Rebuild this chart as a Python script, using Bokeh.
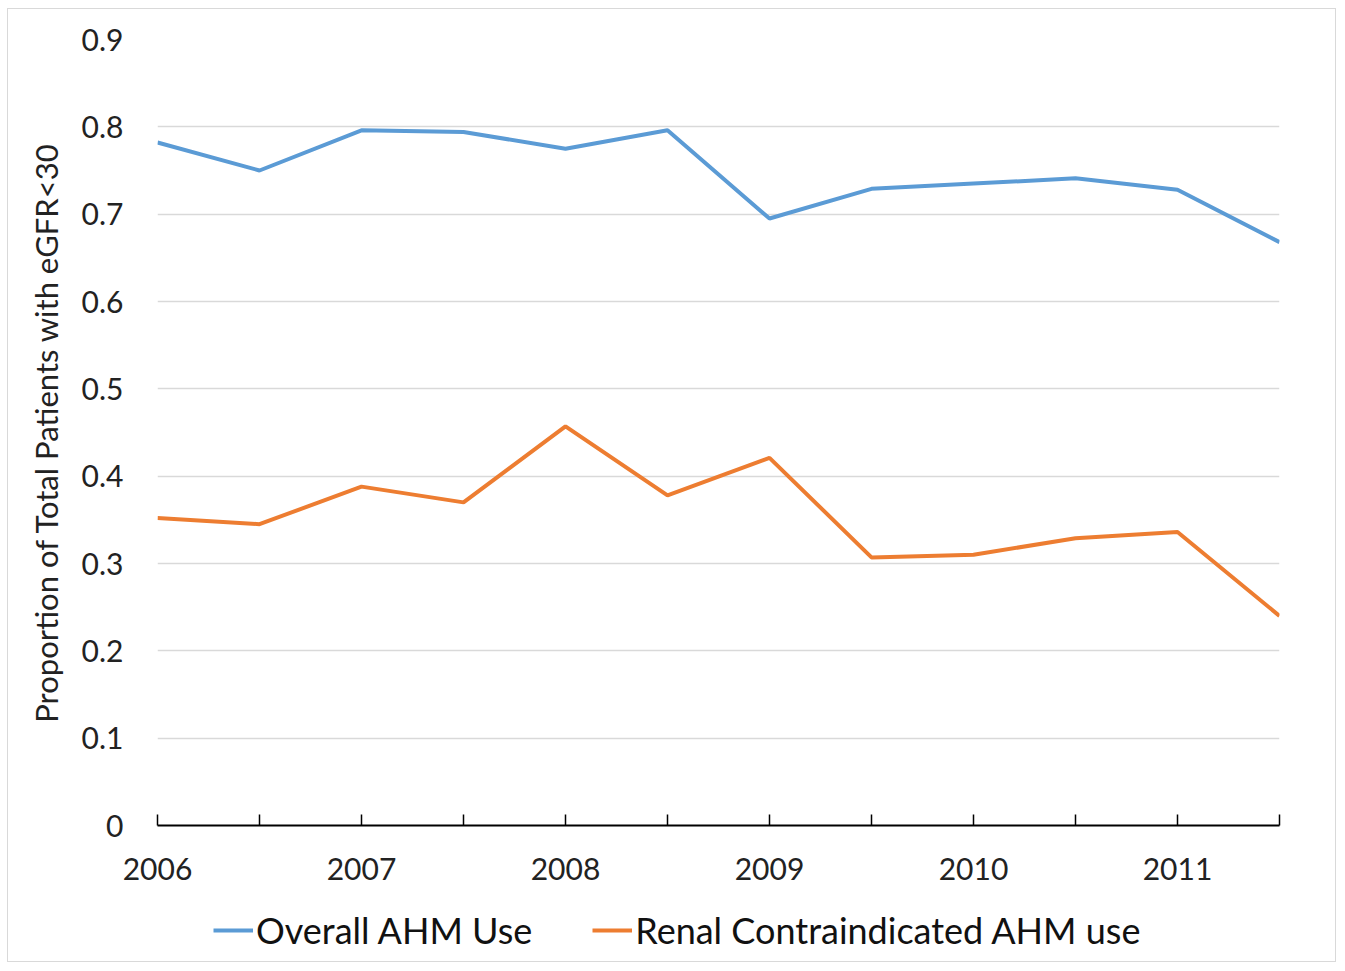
from bokeh.plotting import figure
from bokeh.models import Legend, LegendItem, FixedTicker, Range1d
from bokeh.layouts import column
from bokeh.embed import file_html
from bokeh.resources import INLINE

periods = [2006.0, 2006.5, 2007.0, 2007.5, 2008.0, 2008.5, 2009.0, 2009.5, 2010.0, 2010.5, 2011.0, 2011.5]
overall_ahm = [0.782, 0.750, 0.796, 0.794, 0.775, 0.796, 0.695, 0.729, 0.735, 0.741, 0.728, 0.668]
renal_ahm = [0.352, 0.345, 0.388, 0.370, 0.457, 0.378, 0.421, 0.307, 0.310, 0.329, 0.336, 0.240]
year_labels = ["2006", "2007", "2008", "2009", "2010", "2011"]
y_ticks = [0, 0.1, 0.2, 0.3, 0.4, 0.5, 0.6, 0.7, 0.8, 0.9]
series_names = ["Overall AHM Use", "Renal Contraindicated AHM use"]

FONT = "Lato"
BLUE = "#5B9BD5"
ORANGE = "#ED7D31"

p = figure(frame_width=1122, frame_height=786,
           output_backend="svg", toolbar_location=None,
           x_range=Range1d(2006, 2011.5), y_range=Range1d(0, 0.9),
           min_border_left=149, min_border_right=56, min_border_top=30, min_border_bottom=76)
p.outline_line_color = None
p.background_fill_color = "white"
p.border_fill_color = "white"

p.line(periods, overall_ahm, line_color=BLUE, line_width=4)
p.line(periods, renal_ahm, line_color=ORANGE, line_width=4)

# x axis
p.xaxis.ticker = FixedTicker(ticks=periods)
overrides = {}
for v in periods:
    overrides[v] = str(int(v)) if float(v).is_integer() else ""
p.xaxis.major_label_overrides = overrides
p.xaxis.axis_line_color = "black"
p.xaxis.axis_line_width = 2
p.xaxis.major_tick_line_color = "black"
p.xaxis.major_tick_line_width = 1.5
p.xaxis.major_tick_in = 11
p.xaxis.major_tick_out = 0
p.xaxis.minor_tick_line_color = None
p.xaxis.major_label_standoff = 32
p.xaxis.major_label_text_font = FONT
p.xaxis.major_label_text_font_size = "30px"
p.xaxis.major_label_text_color = "#222222"

# y axis
p.yaxis.ticker = FixedTicker(ticks=y_ticks)
p.yaxis.major_label_overrides = {0: "0"}
p.yaxis.axis_line_color = None
p.yaxis.major_tick_line_color = None
p.yaxis.minor_tick_line_color = None
p.yaxis.major_label_standoff = 28
p.yaxis.major_label_text_font = FONT
p.yaxis.major_label_text_font_size = "30px"
p.yaxis.major_label_text_color = "#222222"
p.yaxis.axis_label = "Proportion of Total Patients with eGFR<30"
p.yaxis.axis_label_text_font = FONT
p.yaxis.axis_label_text_font_size = "31px"
p.yaxis.axis_label_text_font_style = "normal"
p.yaxis.axis_label_text_color = "#222222"
p.yaxis.axis_label_standoff = 14

p.xgrid.grid_line_color = None
p.ygrid.grid_line_color = "#d9d9d9"
p.ygrid.grid_line_width = 1.5

# legend strip below the chart (its own small canvas so the legend is not clipped)
lp = figure(frame_width=1122, frame_height=60, output_backend="svg", toolbar_location=None,
            x_range=Range1d(0, 1), y_range=Range1d(0, 1),
            x_axis_location=None, y_axis_location=None,
            min_border_left=149, min_border_right=56, min_border_top=0, min_border_bottom=0)
lp.outline_line_color = None
lp.grid.visible = False
lp.background_fill_color = "white"
lp.border_fill_color = "white"
l1 = lp.line(periods, overall_ahm, line_color=BLUE, line_width=4)
l2 = lp.line(periods, renal_ahm, line_color=ORANGE, line_width=4)

legend = Legend(items=[LegendItem(label=series_names[0], renderers=[l1]),
                       LegendItem(label=series_names[1], renderers=[l2])],
                orientation="horizontal", location=(56, 9))
legend.label_text_font = FONT
legend.label_text_font_size = "36px"
legend.label_text_color = "#111111"
legend.glyph_width = 40
legend.glyph_height = 30
legend.label_standoff = 3
legend.spacing = 60
legend.padding = 0
legend.margin = 0
legend.border_line_color = None
legend.background_fill_alpha = 0
lp.add_layout(legend, "center")

layout = column(p, lp, spacing=0)
layout.styles = {"border": "1px solid #d9d9d9", "margin": "8px 0 0 7px", "background": "white"}

open("out.html", "w").write(file_html(layout, INLINE))
